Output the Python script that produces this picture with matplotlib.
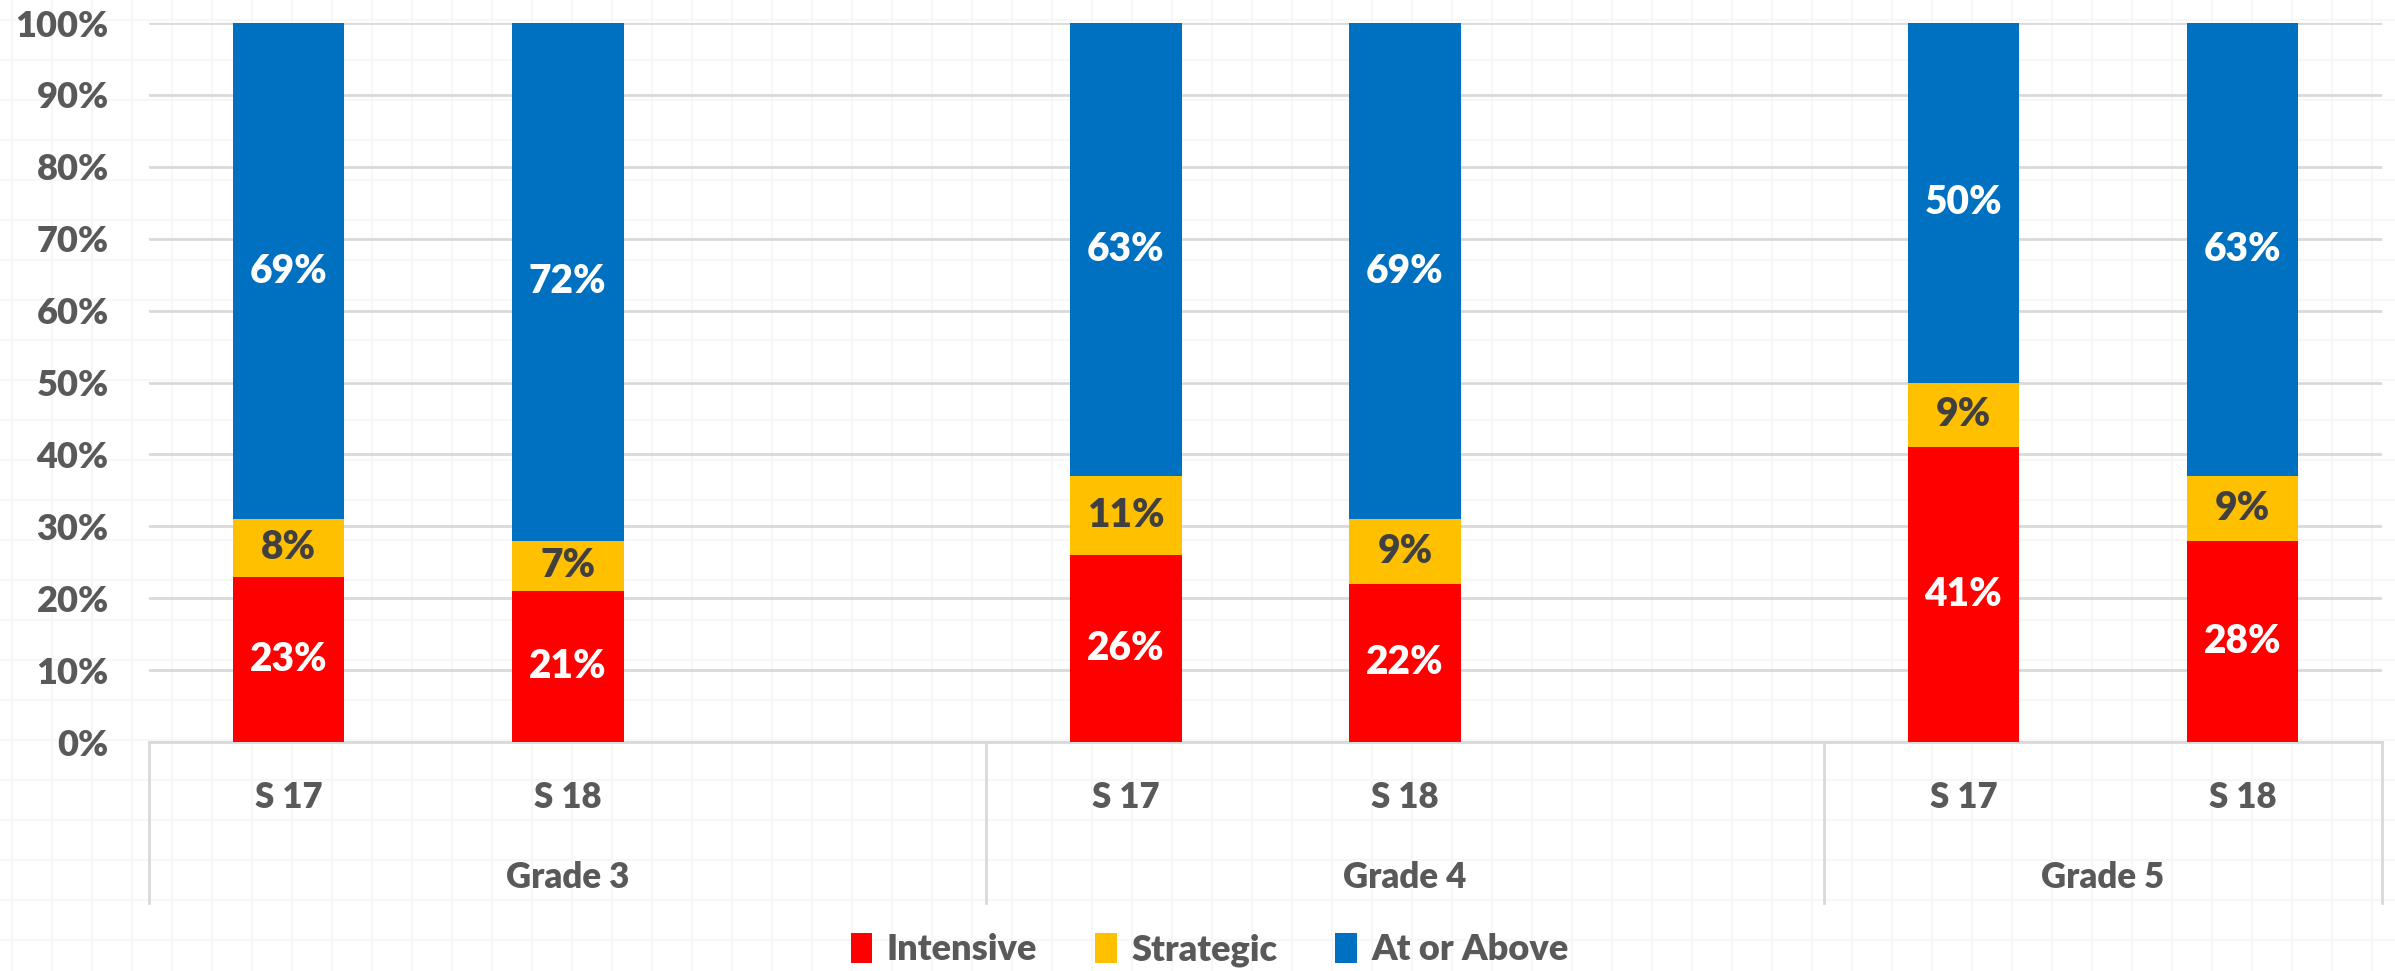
import numpy as np
import matplotlib
matplotlib.use('Agg')
import matplotlib.pyplot as plt

plt.rcParams['font.family'] = ['Lato', 'DejaVu Sans']
plt.rcParams['font.weight'] = 'heavy'

grades = ['Grade 3', 'Grade 4', 'Grade 5']
seasons = ['S 17', 'S 18']
# slot index of each bar (Grade 3 and 4 each have a blank third slot)
bar_slots = [0, 1, 3, 4, 6, 7]
bar_labels = ['S 17', 'S 18', 'S 17', 'S 18', 'S 17', 'S 18']
group_edges = [-0.5, 2.5, 5.5, 7.5]

intensive = [23, 21, 26, 22, 41, 28]
strategic = [8, 7, 11, 9, 9, 9]
at_or_above = [69, 72, 63, 69, 50, 63]

series_names = ['Intensive', 'Strategic', 'At or Above']
colors = ['#FF0000', '#FFC000', '#0070C0']
label_colors = ['white', '#404040', 'white']

fig = plt.figure(figsize=(23.95, 9.71), dpi=100)

# faint spreadsheet cell grid behind the chart
bg = fig.add_axes([0, 0, 1, 1], zorder=-1)
bg.set_xlim(0, 2395)
bg.set_ylim(971, 0)
for xv in np.arange(12, 2395, 40):
    bg.axvline(xv, color='#f6f6f6', lw=1.2)
for yv in np.arange(20, 971, 40):
    bg.axhline(yv, color='#f6f6f6', lw=1.2)
bg.axis('off')

ax = fig.add_axes([0.0622, 0.2358, 0.9324, 0.7405])
ax.patch.set_alpha(0)

data = [intensive, strategic, at_or_above]
bottom = np.zeros(len(bar_slots))
for vals, name, col, lcol in zip(data, series_names, colors, label_colors):
    vals = np.array(vals)
    bars = ax.bar(bar_slots, vals, bottom=bottom, width=0.4, color=col,
                  label=name, zorder=3)
    for b, v, bt in zip(bars, vals, bottom):
        ax.text(b.get_x() + b.get_width() / 2, bt + v / 2, f'{v}%',
                ha='center', va='center', color=lcol, fontsize=28,
                fontweight='heavy', zorder=4)
    bottom += vals

ax.set_xlim(-0.5, 7.5)
ax.set_ylim(0, 100)
ax.set_yticks(np.arange(0, 101, 10))
ax.set_yticklabels([f'{t}%' for t in range(0, 101, 10)])
ax.tick_params(axis='y', length=0, pad=29, labelsize=26, labelcolor='#595959')
ax.set_xticks([])
ax.yaxis.grid(True, color='#d9d9d9', lw=2, zorder=0)
for s in ['top', 'right', 'left']:
    ax.spines[s].set_visible(False)
ax.spines['bottom'].set_color('#d9d9d9')
ax.spines['bottom'].set_linewidth(2)

# two-level category axis
trans = ax.get_xaxis_transform()
for xe in group_edges:
    ax.plot([xe, xe], [0, -0.224], transform=trans, color='#d9d9d9', lw=2,
            clip_on=False)
for xs, lab in zip(bar_slots, bar_labels):
    ax.text(xs, -0.0765, lab, transform=trans, ha='center', va='center',
            fontsize=25, color='#595959', fontweight='heavy')
for i, g in enumerate(grades):
    mid = (group_edges[i] + group_edges[i + 1]) / 2
    ax.text(mid, -0.189, g, transform=trans, ha='center', va='center',
            fontsize=25, color='#595959', fontweight='heavy')

leg = fig.legend(loc='center', bbox_to_anchor=(0.505, 0.022), ncol=3,
                 frameon=False, fontsize=26, handlelength=0.6,
                 handleheight=0.9, columnspacing=1.6, handletextpad=0.4)
for t in leg.get_texts():
    t.set_color('#595959')

fig.savefig('out.png', dpi=100)
